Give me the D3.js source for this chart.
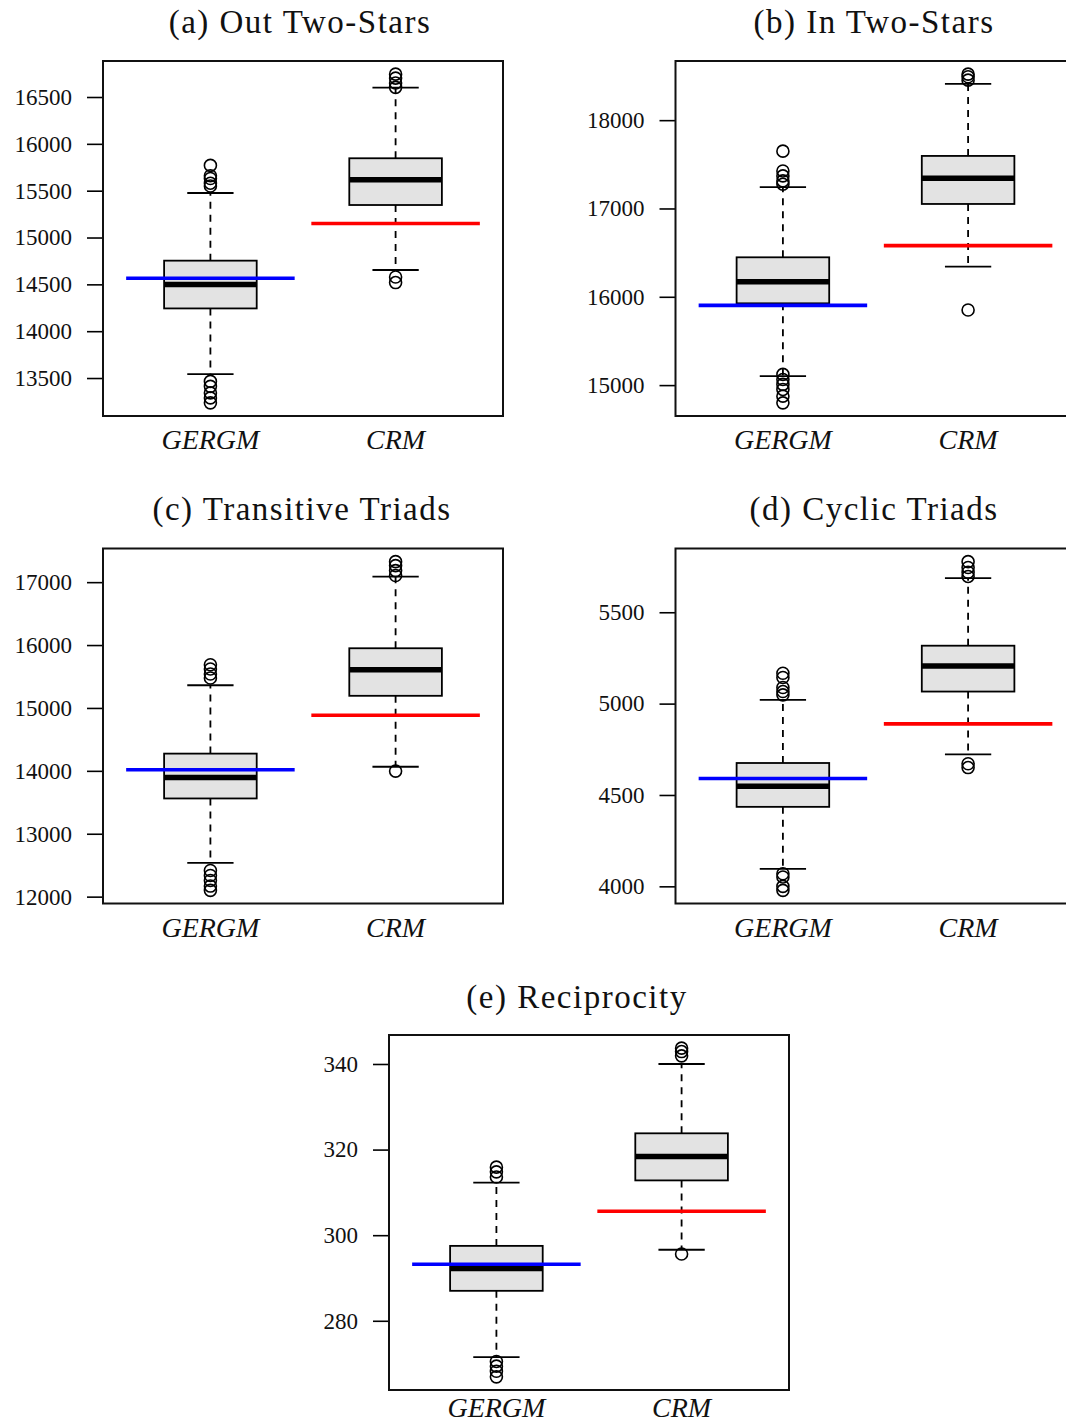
<!DOCTYPE html>
<html>
<head>
<meta charset="utf-8">
<script src="https://cdn.jsdelivr.net/npm/d3@7"></script>
<style>
  body { margin: 0; background: #fff; }
  svg { display: block; }
  svg text { font-family: "Liberation Serif", "Times New Roman", serif; }
</style>
</head>
<body>
<svg id="chart" width="1066" height="1424"></svg>
<script>
const groups = ['GERGM', 'CRM']

// box stats per group: [lower whisker, Q1, median, Q3, upper whisker]
const outStarsBox = [[13542, 14243, 14498, 14753, 15475], [14653, 15347, 15616, 15846, 16600]]
const outStarsOutliers = [[15770, 15660, 15630, 15580, 15550, 13464, 13411, 13341, 13288, 13235], [16744, 16702, 16649, 16603, 14579, 14519]]
const outStarsObserved = [14565, 15149]
const outStarsTicks = [13500, 14000, 14500, 15000, 15500, 16000, 16500]

const inStarsBox = [[15102, 15926, 16171, 16447, 17241], [16341, 17051, 17343, 17595, 18411]]
const inStarsOutliers = [[17649, 17425, 17369, 17312, 17275, 15121, 15064, 15008, 14951, 14875, 14799], [18521, 18491, 18453, 15850]]
const inStarsObserved = [15903, 16579]
const inStarsTicks = [15000, 16000, 17000, 18000]

const transBox = [[12536, 13561, 13896, 14274, 15361], [14065, 15193, 15609, 15949, 17089]]
const transOutliers = [[15687, 15619, 15540, 15476, 12415, 12336, 12257, 12168, 12100], [17326, 17263, 17184, 17105, 13996]]
const transObserved = [14017, 14884]
const transTicks = [12000, 13000, 14000, 15000, 16000, 17000]

const cyclicBox = [[4095, 4435, 4548, 4675, 5020], [4722, 5066, 5206, 5317, 5687]]
const cyclicOutliers = [[5166, 5143, 5088, 5066, 5048, 4069, 4051, 4000, 3978], [5777, 5745, 5719, 5696, 4671, 4650]]
const cyclicObserved = [4590, 4889]
const cyclicTicks = [4000, 4500, 5000, 5500]

const recipBox = [[271.5, 287.0, 292.2, 297.5, 312.3], [296.6, 312.8, 318.4, 323.8, 340.0]]
const recipOutliers = [[315.9, 314.8, 313.6, 270.5, 269.4, 268.2, 266.9], [343.7, 342.9, 341.9, 295.6]]
const recipObserved = [293.2, 305.6]
const recipTicks = [280, 300, 320, 340]

const obsColors = ['#0000ff', '#ff0000']

const panels = [
    { title: '(a) Out Two-Stars', box: outStarsBox, out: outStarsOutliers, obs: outStarsObserved, ticks: outStarsTicks, x: 103, y: 61, tx: 300, ty: 33, ly: 33 },
    { title: '(b) In Two-Stars', box: inStarsBox, out: inStarsOutliers, obs: inStarsObserved, ticks: inStarsTicks, x: 675.5, y: 61, tx: 874, ty: 33, ly: 33 },
    { title: '(c) Transitive Triads', box: transBox, out: transOutliers, obs: transObserved, ticks: transTicks, x: 103, y: 548.5, tx: 302, ty: 520, ly: 33 },
    { title: '(d) Cyclic Triads', box: cyclicBox, out: cyclicOutliers, obs: cyclicObserved, ticks: cyclicTicks, x: 675.5, y: 548.5, tx: 874, ty: 520, ly: 33 },
    { title: '(e) Reciprocity', box: recipBox, out: recipOutliers, obs: recipObserved, ticks: recipTicks, x: 389, y: 1035, tx: 577, ty: 1008, ly: 27 }
]

const pw = 400, ph = 355
const boxHalf = 0.25, stapleHalf = 0.125, obsHalf = 0.455

const svg = d3.select('#chart')

panels.forEach(p => {
    // R style range: data extent padded by 4%
    const all = p.box.flat().concat(p.out.flat())
    const [lo, hi] = d3.extent(all)
    const pad = (hi - lo) * 0.04
    const y = d3.scaleLinear().domain([lo - pad, hi + pad]).range([ph, 0])
    const x = d3.scaleLinear().domain([0.42, 2.58]).range([0, pw])

    const g = svg.append('g').attr('transform', `translate(${p.x},${p.y})`)

    // title
    svg.append('text')
        .attr('x', p.tx).attr('y', p.ty)
        .attr('text-anchor', 'middle')
        .style('font-size', '33px')
        .style('letter-spacing', '1.5px')
        .attr('fill', '#111')
        .text(p.title)

    // y axis
    const axis = g.append('g')
        .call(d3.axisLeft(y).tickValues(p.ticks).tickSize(16).tickPadding(15).tickFormat(d3.format('d')))
        .attr('font-family', null)
        .attr('font-size', null)
    axis.select('.domain').remove()
    axis.selectAll('line').attr('stroke', '#000').attr('stroke-width', 1.6)
    axis.selectAll('text')
        .style('font-family', '"Liberation Serif", serif')
        .style('font-size', '23px')
        .attr('fill', '#111')

    // group labels
    g.selectAll('.glabel')
        .data(groups)
        .join('text')
        .attr('x', (d, i) => x(i + 1))
        .attr('y', ph + p.ly)
        .attr('text-anchor', 'middle')
        .style('font-style', 'italic')
        .style('font-size', '28px')
        .attr('fill', '#111')
        .text(d => d)

    const box = g.selectAll('.box')
        .data(p.box)
        .join('g')

    // whiskers
    box.append('line')
        .attr('x1', (d, i) => x(i + 1)).attr('x2', (d, i) => x(i + 1))
        .attr('y1', d => y(d[3])).attr('y2', d => y(d[4]))
        .attr('stroke', '#000').attr('stroke-width', 1.8).attr('stroke-dasharray', '7,6')
    box.append('line')
        .attr('x1', (d, i) => x(i + 1)).attr('x2', (d, i) => x(i + 1))
        .attr('y1', d => y(d[1])).attr('y2', d => y(d[0]))
        .attr('stroke', '#000').attr('stroke-width', 1.8).attr('stroke-dasharray', '7,6')

    // staples
    ;[0, 4].forEach(k => {
        box.append('line')
            .attr('x1', (d, i) => x(i + 1 - stapleHalf)).attr('x2', (d, i) => x(i + 1 + stapleHalf))
            .attr('y1', d => y(d[k])).attr('y2', d => y(d[k]))
            .attr('stroke', '#000').attr('stroke-width', 1.8)
    })

    // box
    box.append('rect')
        .attr('x', (d, i) => x(i + 1 - boxHalf))
        .attr('width', x(1 + boxHalf) - x(1 - boxHalf))
        .attr('y', d => y(d[3]))
        .attr('height', d => y(d[1]) - y(d[3]))
        .attr('fill', '#e3e3e3')
        .attr('stroke', '#000').attr('stroke-width', 1.8)

    // median
    box.append('line')
        .attr('x1', (d, i) => x(i + 1 - boxHalf)).attr('x2', (d, i) => x(i + 1 + boxHalf))
        .attr('y1', d => y(d[2])).attr('y2', d => y(d[2]))
        .attr('stroke', '#000').attr('stroke-width', 5.5)

    // outliers
    p.out.forEach((pts, i) => {
        g.selectAll(null)
            .data(pts)
            .join('circle')
            .attr('cx', x(i + 1))
            .attr('cy', d => y(d))
            .attr('r', 6)
            .attr('fill', 'none')
            .attr('stroke', '#000').attr('stroke-width', 1.6)
    })

    // observed network statistic
    g.selectAll('.obs')
        .data(p.obs)
        .join('line')
        .attr('x1', (d, i) => x(i + 1 - obsHalf)).attr('x2', (d, i) => x(i + 1 + obsHalf))
        .attr('y1', d => y(d)).attr('y2', d => y(d))
        .attr('stroke', (d, i) => obsColors[i])
        .attr('stroke-width', 3.6)

    // frame
    g.append('rect')
        .attr('width', pw).attr('height', ph)
        .attr('fill', 'none')
        .attr('stroke', '#111').attr('stroke-width', 2)
})
</script>
</body>
</html>
